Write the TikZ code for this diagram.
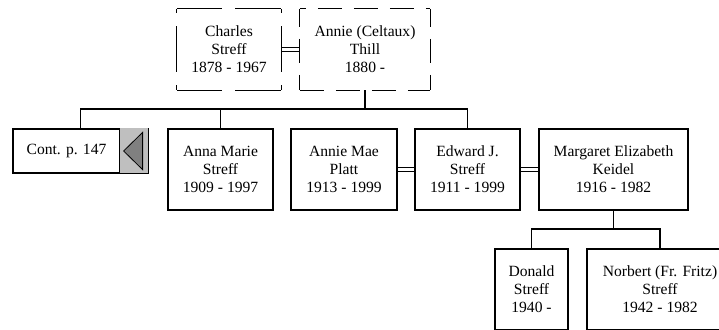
\documentclass[tikz,border=0pt]{standalone}
\usepackage{fontspec}
\setmainfont{Liberation Serif}
\begin{document}
\begin{tikzpicture}[x=1pt,y=-1pt,
  person/.style={draw=black,line width=1.2pt,fill=white,align=center,inner sep=0pt,
    minimum height=81pt,font=\fontsize{15.6}{18}\selectfont},
  ghost/.style={draw=none,align=center,inner sep=0pt,minimum height=81pt,
    font=\fontsize{15.6}{18}\selectfont},
  link/.style={draw=black,line width=1.2pt},
  marr/.style={draw=black,line width=0.9pt},
  dashA/.style={draw=black,line width=0.9pt,dash pattern=on 46pt off 13pt},
  dashB/.style={draw=black,line width=0.9pt,dash pattern=on 24pt off 12pt}]
\useasboundingbox (0,0) rectangle (719,329);
\clip (0,0) rectangle (719,329);
% top couple
\node[ghost,minimum width=104pt] (charles) at (229,49.5) {Charles\\Streff\\1878 - 1967};
\node[ghost,minimum width=130pt] (annie) at (365,49.5) {Annie (Celtaux)\\Thill\\1880 -};
\draw[dashA,dash phase=0.5pt] (charles.north west) -- (charles.north east);
\draw[dashA,dash phase=0.5pt] (charles.south west) -- (charles.south east);
\draw[dashA,dash phase=41.5pt] (charles.north west) -- (charles.south west);
\draw[dashA,dash phase=41.5pt] (charles.north east) -- (charles.south east);
\draw[dashB,dash phase=18pt] (annie.north west) -- (annie.north east);
\draw[dashB] (annie.south west) -- (annie.south east);
\draw[dashB,dash phase=6pt] (annie.north west) -- (annie.south west);
\draw[dashB,dash phase=6pt] (annie.north east) -- (annie.south east);
\draw[marr] ([yshift=-2pt]charles.east) -- ([yshift=-2pt]annie.west);
\draw[marr] ([yshift=2pt]charles.east) -- ([yshift=2pt]annie.west);
% second row
\node[draw=black,line width=1.2pt,minimum width=135pt,minimum height=44pt,inner sep=0pt] (cont) at (80.5,151) {};
\node[font=\fontsize{15.6}{18}\selectfont,inner sep=0pt] (conttext) at (66.5,151) {Cont. p. 147};
\coordinate (gtl) at ([xshift=-29pt]cont.north east);
\coordinate (gbl) at ([xshift=-29pt]cont.south east);
\fill[fill=black!25] (gtl) rectangle (cont.south east);
\draw[line width=1.2pt] (gtl) -- (gbl);
\draw[line width=1.6pt] (cont.north east) -- (cont.south east) -- (gbl);
\draw[fill=black!50,line width=0.8pt] ([xshift=4pt]gtl |- cont.east) -- ([xshift=23pt,yshift=-4pt]gtl) -- ([xshift=23pt,yshift=4pt]gbl) -- cycle;
\node[person,minimum width=105pt] (anna) at (220.5,169.5) {Anna Marie\\Streff\\1909 - 1997};
\node[person,minimum width=106pt] (mae) at (344,169.5) {Annie Mae\\Platt\\1913 - 1999};
\node[person,minimum width=105pt] (edward) at (467.5,169.5) {Edward J.\\Streff\\1911 - 1999};
\node[person,minimum width=149pt] (margaret) at (613.5,169.5) {Margaret Elizabeth\\Keidel\\1916 - 1982};
\draw[marr] ([yshift=-2pt]mae.east) -- ([yshift=-2pt]edward.west);
\draw[marr] ([yshift=2pt]mae.east) -- ([yshift=2pt]edward.west);
\draw[marr] ([yshift=-2pt]edward.east) -- ([yshift=-2pt]margaret.west);
\draw[marr] ([yshift=2pt]edward.east) -- ([yshift=2pt]margaret.west);
% connectors row 1 -> row 2
\coordinate (j1) at (365,109);
\draw[link] (annie.south) -- (j1);
\draw[link] (cont.north) |- (edward.north |- j1) -- (edward.north);
\draw[link] (anna.north) -- (anna.north |- j1);
% third row
\node[person,minimum width=73pt] (donald) at (531.5,289.5) {Donald\\Streff\\1940 -};
\node[person,minimum width=146pt] (norbert) at (660,289.5) {Norbert (Fr. Fritz)\\Streff\\1942 - 1982};
\coordinate (j2) at (613.5,229);
\draw[link] (margaret.south) -- (j2);
\draw[link] (donald.north) |- (norbert.north |- j2) -- (norbert.north);
\end{tikzpicture}
\end{document}
